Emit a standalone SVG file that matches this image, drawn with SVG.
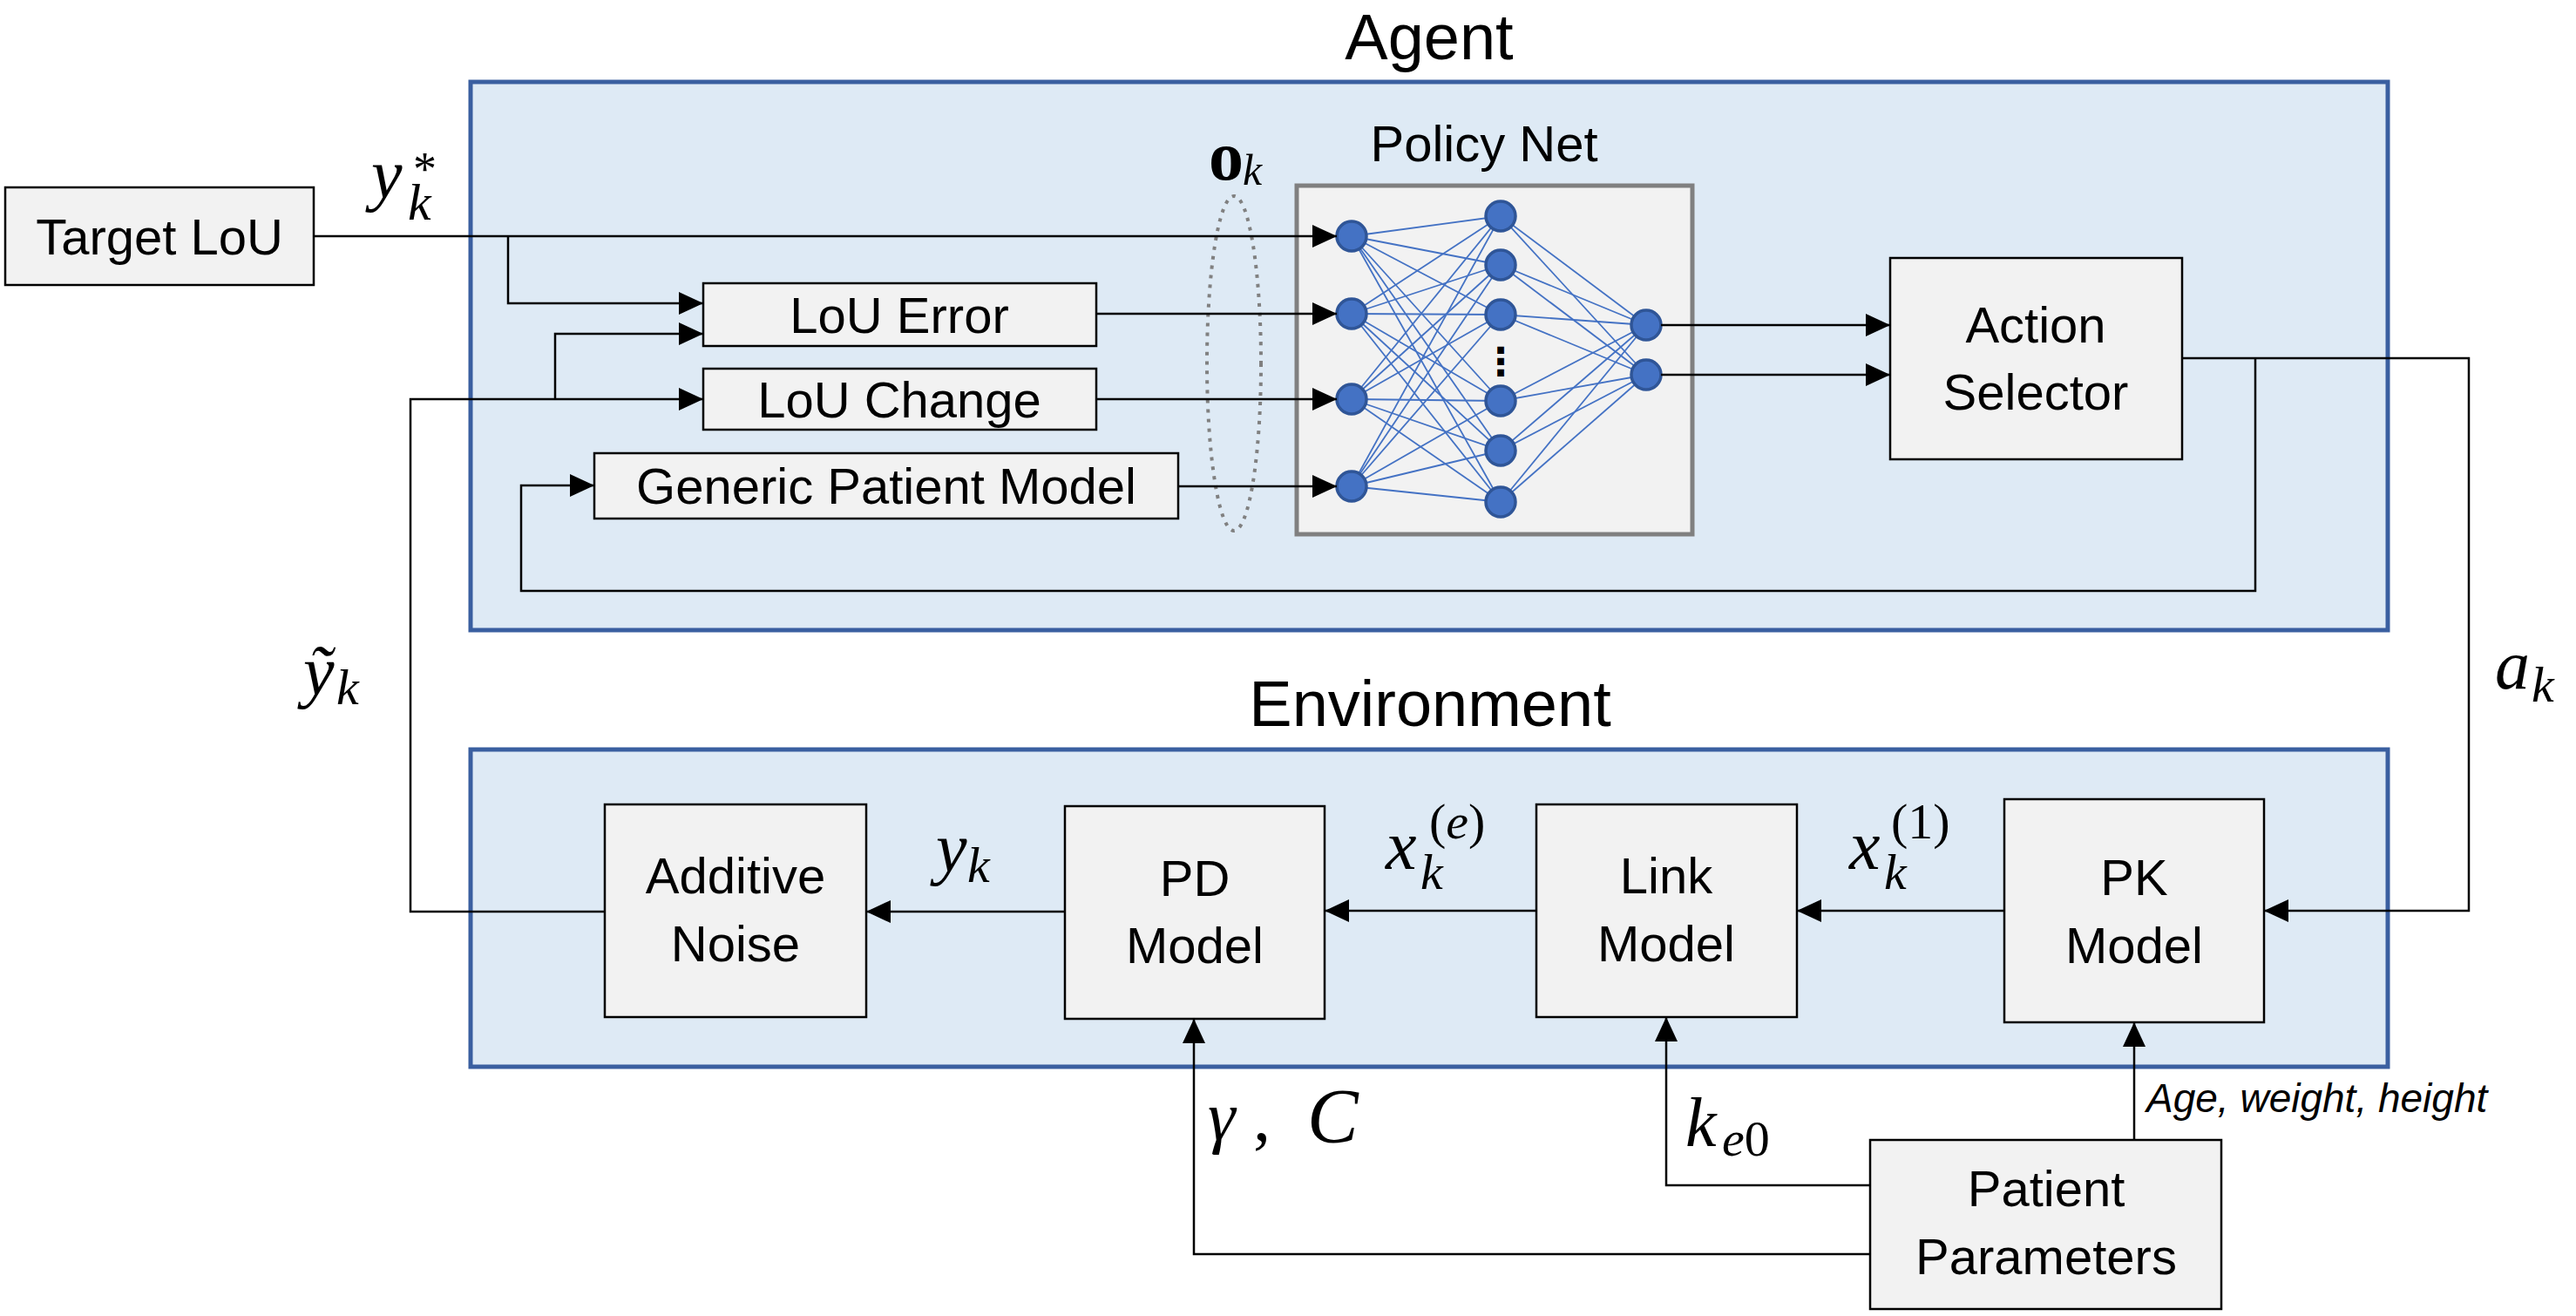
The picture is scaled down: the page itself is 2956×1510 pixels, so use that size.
<svg xmlns="http://www.w3.org/2000/svg" width="2956" height="1510" viewBox="0 0 2956 1510">
<defs>
<marker id="arr" markerUnits="userSpaceOnUse" viewBox="0 0 28 26" refX="28" refY="13" markerWidth="28" markerHeight="26" orient="auto">
<path d="M0,0 L28,13 L0,26 Z" fill="#000"/>
</marker>
<style>
.frame{fill:#deeaf5;stroke:#3a5fa0;stroke-width:5}
.box{fill:#f2f2f2;stroke:#000;stroke-width:2.5}
.lbl{font-family:"Liberation Sans",Arial,sans-serif;font-size:58px;text-anchor:middle;fill:#000}
.title{font-family:"Liberation Sans",Arial,sans-serif;font-size:74px;text-anchor:middle;fill:#000}
.conn{fill:none;stroke:#000;stroke-width:2.5}
.edge{stroke:#4472c4;stroke-width:1.8}
.node{fill:#4472c4;stroke:#2f5597;stroke-width:3.5}
.m{font-family:"Liberation Serif","Times New Roman",serif;font-style:italic;font-size:80px;fill:#000}
.s{font-size:58px}
.up{font-style:normal}
</style>
</defs>
<rect width="2956" height="1510" fill="#fff"/>

<g id="agent">
<rect class="frame" x="540" y="94" width="2200" height="629"/>
<text class="title" x="1640" y="68">Agent</text>
</g>
<g id="environment">
<rect class="frame" x="540" y="860" width="2200" height="364"/>
<text class="title" x="1641" y="833">Environment</text>
</g>

<g id="target-lou">
<rect class="box" x="6" y="215" width="354" height="112"/>
<text class="lbl" x="183" y="292">Target LoU</text>
</g>
<g id="lou-error">
<rect class="box" x="807" y="325" width="451" height="72"/>
<text class="lbl" x="1032" y="382">LoU Error</text>
</g>
<g id="lou-change">
<rect class="box" x="807" y="423" width="451" height="70"/>
<text class="lbl" x="1032" y="479">LoU Change</text>
</g>
<g id="generic-patient-model">
<rect class="box" x="682" y="520" width="670" height="75"/>
<text class="lbl" x="1017" y="578">Generic Patient Model</text>
</g>

<g id="observation">
<ellipse cx="1416" cy="417" rx="31" ry="192" fill="none" stroke="#808080" stroke-width="4" stroke-dasharray="4 7"/>
<text class="m" x="1387" y="206" font-size="62"><tspan class="up" font-weight="bold">o</tspan><tspan x="1426" y="212" font-size="50">k</tspan></text>
</g>

<g id="policy-net">
<rect x="1488" y="213" width="454" height="400" fill="#f2f2f2" stroke="#808080" stroke-width="5"/>
<text class="lbl" x="1703" y="185" font-size="50">Policy Net</text>
<g class="edge">
<line x1="1551" y1="271" x2="1722" y2="248"/><line x1="1551" y1="271" x2="1722" y2="304"/><line x1="1551" y1="271" x2="1722" y2="361"/><line x1="1551" y1="271" x2="1722" y2="460"/><line x1="1551" y1="271" x2="1722" y2="517"/><line x1="1551" y1="271" x2="1722" y2="576"/>
<line x1="1551" y1="360" x2="1722" y2="248"/><line x1="1551" y1="360" x2="1722" y2="304"/><line x1="1551" y1="360" x2="1722" y2="361"/><line x1="1551" y1="360" x2="1722" y2="460"/><line x1="1551" y1="360" x2="1722" y2="517"/><line x1="1551" y1="360" x2="1722" y2="576"/>
<line x1="1551" y1="458" x2="1722" y2="248"/><line x1="1551" y1="458" x2="1722" y2="304"/><line x1="1551" y1="458" x2="1722" y2="361"/><line x1="1551" y1="458" x2="1722" y2="460"/><line x1="1551" y1="458" x2="1722" y2="517"/><line x1="1551" y1="458" x2="1722" y2="576"/>
<line x1="1551" y1="558" x2="1722" y2="248"/><line x1="1551" y1="558" x2="1722" y2="304"/><line x1="1551" y1="558" x2="1722" y2="361"/><line x1="1551" y1="558" x2="1722" y2="460"/><line x1="1551" y1="558" x2="1722" y2="517"/><line x1="1551" y1="558" x2="1722" y2="576"/>
<line x1="1722" y1="248" x2="1889" y2="373"/><line x1="1722" y1="304" x2="1889" y2="373"/><line x1="1722" y1="361" x2="1889" y2="373"/><line x1="1722" y1="460" x2="1889" y2="373"/><line x1="1722" y1="517" x2="1889" y2="373"/><line x1="1722" y1="576" x2="1889" y2="373"/>
<line x1="1722" y1="248" x2="1889" y2="430"/><line x1="1722" y1="304" x2="1889" y2="430"/><line x1="1722" y1="361" x2="1889" y2="430"/><line x1="1722" y1="460" x2="1889" y2="430"/><line x1="1722" y1="517" x2="1889" y2="430"/><line x1="1722" y1="576" x2="1889" y2="430"/>
</g>
<g class="node">
<circle cx="1551" cy="271" r="17"/><circle cx="1551" cy="360" r="17"/><circle cx="1551" cy="458" r="17"/><circle cx="1551" cy="558" r="17"/>
<circle cx="1722" cy="248" r="17"/><circle cx="1722" cy="304" r="17"/><circle cx="1722" cy="361" r="17"/><circle cx="1722" cy="460" r="17"/><circle cx="1722" cy="517" r="17"/><circle cx="1722" cy="576" r="17"/>
<circle cx="1889" cy="373" r="17"/><circle cx="1889" cy="430" r="17"/>
</g>
<text x="1722" y="430" font-family="'DejaVu Sans',sans-serif" font-weight="bold" font-size="44" text-anchor="middle">⋮</text>
</g>

<g id="action-selector">
<rect class="box" x="2169" y="296" width="335" height="231"/>
<text class="lbl" x="2336" y="393" font-size="60">Action</text>
<text class="lbl" x="2336" y="470" font-size="60">Selector</text>
</g>

<g id="additive-noise">
<rect class="box" x="694" y="923" width="300" height="244"/>
<text class="lbl" x="844" y="1025" font-size="60">Additive</text>
<text class="lbl" x="844" y="1103" font-size="60">Noise</text>
</g>
<g id="pd-model">
<rect class="box" x="1222" y="925" width="298" height="244"/>
<text class="lbl" x="1371" y="1028" font-size="60">PD</text>
<text class="lbl" x="1371" y="1105" font-size="60">Model</text>
</g>
<g id="link-model">
<rect class="box" x="1763" y="923" width="299" height="244"/>
<text class="lbl" x="1912" y="1025" font-size="60">Link</text>
<text class="lbl" x="1912" y="1103" font-size="60">Model</text>
</g>
<g id="pk-model">
<rect class="box" x="2300" y="917" width="298" height="256"/>
<text class="lbl" x="2449" y="1027" font-size="60">PK</text>
<text class="lbl" x="2449" y="1105" font-size="60">Model</text>
</g>
<g id="patient-parameters">
<rect class="box" x="2146" y="1308" width="403" height="194"/>
<text class="lbl" x="2348" y="1384" font-size="60">Patient</text>
<text class="lbl" x="2348" y="1462" font-size="60">Parameters</text>
</g>

<g id="connectors">
<path class="conn" d="M360,271 H1534" marker-end="url(#arr)"/>
<path class="conn" d="M583,271 V348 H807" marker-end="url(#arr)"/>
<path class="conn" d="M694,1046 H471 V458 H807" marker-end="url(#arr)"/>
<path class="conn" d="M637,458 V383 H807" marker-end="url(#arr)"/>
<path class="conn" d="M1258,360 H1534" marker-end="url(#arr)"/>
<path class="conn" d="M1258,458 H1534" marker-end="url(#arr)"/>
<path class="conn" d="M1352,558 H1534" marker-end="url(#arr)"/>
<path class="conn" d="M1906,373 H2169" marker-end="url(#arr)"/>
<path class="conn" d="M1906,430 H2169" marker-end="url(#arr)"/>
<path class="conn" d="M2504,411 H2833 V1045 H2598" marker-end="url(#arr)"/>
<path class="conn" d="M2588,411 V678 H598 V557 H682" marker-end="url(#arr)"/>
<path class="conn" d="M2300,1045 H2062" marker-end="url(#arr)"/>
<path class="conn" d="M1763,1045 H1520" marker-end="url(#arr)"/>
<path class="conn" d="M1222,1046 H994" marker-end="url(#arr)"/>
<path class="conn" d="M2449,1308 V1173" marker-end="url(#arr)"/>
<path class="conn" d="M2146,1360 H1912 V1167" marker-end="url(#arr)"/>
<path class="conn" d="M2146,1439 H1370 V1169" marker-end="url(#arr)"/>
</g>

<g id="labels">
<text class="m" x="426" y="227" font-size="78">y<tspan x="468" y="252" font-size="60">k</tspan><tspan class="up" x="474" y="212" font-size="54">*</tspan></text>

<text class="m" x="348" y="797" font-size="78">ỹ<tspan class="s" x="386" y="808">k</tspan></text>

<text class="m" x="1074" y="1000" font-size="78">y<tspan class="s" x="1110" y="1012">k</tspan></text>

<text class="m" x="2863" y="790" font-size="78">a<tspan class="s" x="2905" y="805">k</tspan></text>

<text class="m" x="1590" y="997" font-size="90">x<tspan class="s" x="1630" y="1020">k</tspan><tspan class="s up" x="1640" y="962">(<tspan font-style="italic">e</tspan>)</tspan></text>

<text class="m" x="2122" y="997" font-size="90">x<tspan class="s" x="2162" y="1020">k</tspan><tspan class="s up" x="2170" y="962">(1)</tspan></text>

<text class="m" x="1934" y="1315" font-size="92">k<tspan class="s" x="1976" y="1326">e<tspan class="up">0</tspan></tspan></text>

<text class="m" x="1386" y="1308" font-size="84">γ<tspan class="up" x="1438">,</tspan><tspan x="1500" y="1310" font-size="88">C</tspan></text>

<text x="2463" y="1276" font-family="'Liberation Sans',Arial,sans-serif" font-style="italic" font-size="46">Age, weight, height</text>
</g>
</svg>
